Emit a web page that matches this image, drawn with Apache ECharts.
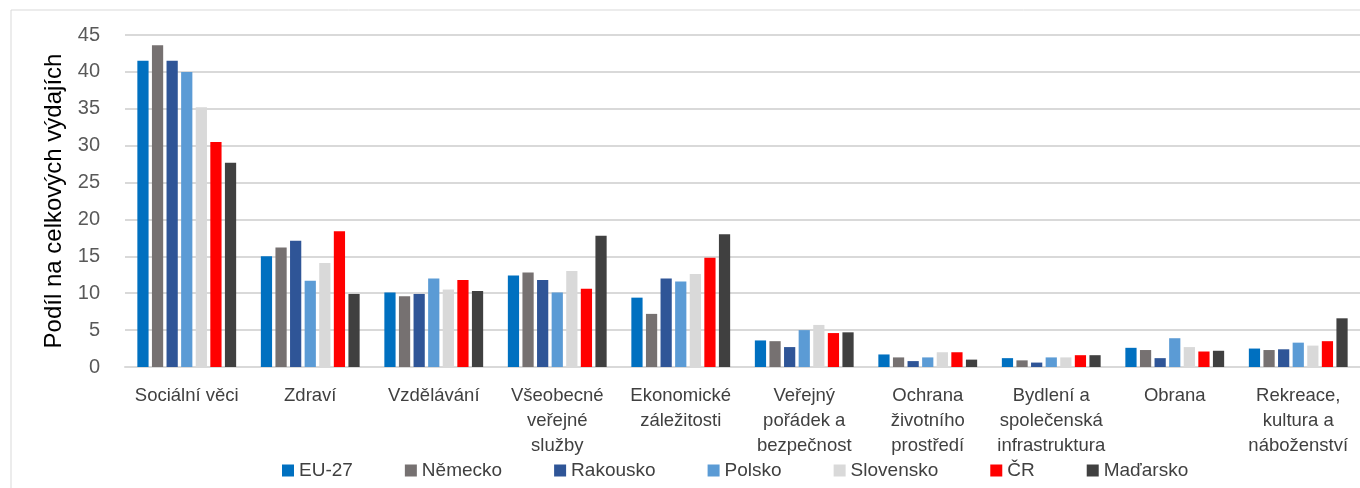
<!DOCTYPE html>
<html>
<head>
<meta charset="utf-8">
<script src="https://cdn.jsdelivr.net/npm/echarts@6/dist/echarts.min.js"></script>
<style>
  html, body { margin: 0; padding: 0; background: #fff; }
  #chart-container { width: 1360px; height: 488px; }
</style>
</head>
<body>
<div id="chart-container"></div>
<script>
// Categories (x axis)
const categories = [
  'Sociální věci', 'Zdraví', 'Vzdělávání', 'Všeobecné\nveřejné\nslužby',
  'Ekonomické\nzáležitosti', 'Veřejný\npořádek a\nbezpečnost', 'Ochrana\nživotního\nprostředí',
  'Bydlení a\nspolečenská\ninfrastruktura', 'Obrana', 'Rekreace,\nkultura a\nnáboženství'
];

// Series values (share of total expenditure, %)
const eu27      = [41.5, 15.0, 10.1, 12.4,  9.4, 3.6, 1.7, 1.2, 2.6, 2.5];
const nemecko   = [43.6, 16.2,  9.6, 12.8,  7.2, 3.5, 1.3, 0.9, 2.3, 2.3];
const rakousko  = [41.5, 17.1,  9.9, 11.8, 12.0, 2.7, 0.8, 0.6, 1.2, 2.4];
const polsko    = [40.0, 11.7, 12.0, 10.1, 11.6, 5.0, 1.3, 1.3, 3.9, 3.3];
const slovensko = [35.2, 14.1, 10.5, 13.0, 12.6, 5.7, 2.0, 1.3, 2.7, 2.9];
const cr        = [30.5, 18.4, 11.8, 10.6, 14.8, 4.6, 2.0, 1.6, 2.1, 3.5];
const madarsko  = [27.7,  9.9, 10.3, 17.8, 18.0, 4.7, 1.0, 1.6, 2.2, 6.6];

const seriesDefs = [
  { name: 'EU-27', data: eu27, color: '#0070C0' },
  { name: 'Německo', data: nemecko, color: '#767171' },
  { name: 'Rakousko', data: rakousko, color: '#2F5597' },
  { name: 'Polsko', data: polsko, color: '#5B9BD5' },
  { name: 'Slovensko', data: slovensko, color: '#D9D9D9' },
  { name: 'ČR', data: cr, color: '#FF0000' },
  { name: 'Maďarsko', data: madarsko, color: '#404040' }
];

const font = 'Liberation Sans, Arial, sans-serif';

const myChart = echarts.init(document.getElementById('chart-container'));
myChart.setOption({
  animation: false,
  textStyle: { fontFamily: font },
  graphic: [{
    type: 'rect',
    shape: { x: 11, y: 10, width: 1360, height: 490 },
    style: { fill: 'none', stroke: '#D9D9D9', lineWidth: 1 },
    silent: true
  }],
  legend: {
    bottom: 3,
    left: 277,
    itemWidth: 12,
    itemHeight: 12,
    itemGap: 52,
    icon: 'rect',
    textStyle: { fontSize: 19, color: '#404040', padding: [0, 0, 0, 0] },
    data: seriesDefs.map(s => s.name)
  },
  grid: { left: 125, right: 0, top: 35, bottom: 121 },
  xAxis: {
    type: 'category',
    data: categories,
    axisLine: { lineStyle: { color: '#D9D9D9', width: 2 } },
    axisTick: { show: false },
    axisLabel: { color: '#404040', fontSize: 18.5, lineHeight: 25, margin: 16, interval: 0 }
  },
  yAxis: {
    type: 'value',
    min: 0,
    max: 45,
    interval: 5,
    name: 'Podíl na celkových výdajích',
    nameLocation: 'center',
    nameGap: 57,
    nameTextStyle: { fontSize: 24, color: '#000' },
    axisLine: { show: false },
    axisTick: { show: false },
    axisLabel: { color: '#595959', fontSize: 20, margin: 25 },
    splitLine: { lineStyle: { color: '#D9D9D9', width: 2 } }
  },
  series: seriesDefs.map(s => ({
    name: s.name,
    type: 'bar',
    data: s.data,
    barGap: '30%',
    barCategoryGap: '20%',
    itemStyle: { color: s.color }
  }))
});
</script>
</body>
</html>
